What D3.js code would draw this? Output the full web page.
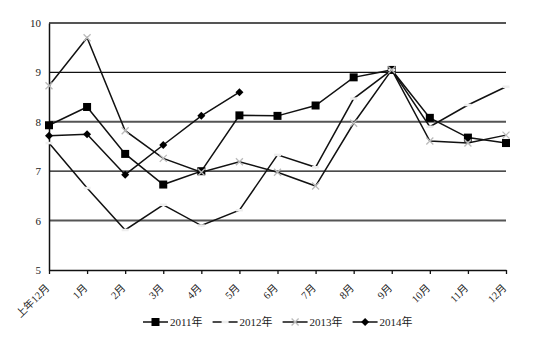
<!DOCTYPE html>
<html>
<head>
<meta charset="utf-8">
<script src="https://cdn.jsdelivr.net/npm/d3@7"></script>
<style>
  body { margin: 0; background: #fff; }
  text { font-family: "Liberation Serif", "Noto Sans CJK SC", serif; fill: #222; }
</style>
</head>
<body>
<div id="chart"></div>
<script>
// data
const categories = ["上年12月", "1月", "2月", "3月", "4月", "5月", "6月", "7月", "8月", "9月", "10月", "11月", "12月"];
const yTicks = [5, 6, 7, 8, 9, 10];
const seriesNames = ["2011年", "2012年", "2013年", "2014年"];
const values2011 = [7.93, 8.30, 7.35, 6.73, 7.00, 8.13, 8.12, 8.33, 8.90, 9.05, 8.08, 7.68, 7.57];
const values2012 = [7.57, 6.66, 5.81, 6.32, 5.90, 6.21, 7.33, 7.08, 8.47, 9.05, 7.90, 8.34, 8.71];
const values2013 = [8.73, 9.70, 7.82, 7.26, 6.98, 7.19, 6.98, 6.70, 7.97, 9.05, 7.61, 7.57, 7.73];
const values2014 = [7.72, 7.75, 6.93, 7.53, 8.12, 8.60];

const width = 533, height = 355;
const margin = {left: 49, right: 27, top: 23, bottom: 85};
const fontFamily = '"Liberation Serif", "Noto Sans CJK SC", serif';

const svg = d3.select("#chart").append("svg")
    .attr("width", width)
    .attr("height", height);

const x = d3.scalePoint()
    .domain(categories)
    .range([margin.left, width - margin.right])
    .padding(0);

const y = d3.scaleLinear()
    .domain([5, 10])
    .range([height - margin.bottom, margin.top]);

// gridlines
svg.append("g")
    .selectAll("line")
    .data(yTicks.filter(d => d > 5))
    .enter().append("line")
    .attr("x1", margin.left)
    .attr("x2", width - margin.right)
    .attr("y1", d => y(d))
    .attr("y2", d => y(d))
    .attr("stroke", d => (d % 2 === 0 ? "#555" : "#111"))
    .attr("stroke-width", d => (d % 2 === 0 ? 2 : 1.3));

// y axis
const yAxis = svg.append("g")
    .attr("transform", `translate(${margin.left},0)`)
    .call(d3.axisLeft(y).tickValues(yTicks).tickFormat(d3.format("d")).tickSize(0).tickPadding(8));
yAxis.attr("font-family", fontFamily);
yAxis.select(".domain").attr("stroke", "#111").attr("stroke-width", 1.5);
yAxis.selectAll("text").style("font-size", "11px");

// x axis
const xAxis = svg.append("g")
    .attr("transform", `translate(0,${y(5)})`)
    .call(d3.axisBottom(x).tickSize(4).tickSizeOuter(0));
xAxis.attr("font-family", fontFamily);
xAxis.select(".domain").attr("stroke", "#111").attr("stroke-width", 1.5);
xAxis.selectAll(".tick line").attr("stroke", "#111").attr("stroke-width", 1.3);
xAxis.selectAll("text")
    .style("font-size", "10.5px")
    .attr("text-anchor", "end")
    .attr("dy", "0.35em")
    .attr("transform", "translate(-2,16) rotate(-45)")
    .attr("x", 0)
    .attr("y", 0);

// series
const allSeries = [
    {name: seriesNames[0], values: values2011, marker: "square"},
    {name: seriesNames[1], values: values2012, marker: "dash"},
    {name: seriesNames[2], values: values2013, marker: "cross"},
    {name: seriesNames[3], values: values2014, marker: "diamond"}
];

const line = d3.line()
    .x((d, i) => x(categories[i]))
    .y(d => y(d));

function drawMarker(g, type) {
    if (type === "square") {
        g.append("rect").attr("x", -4).attr("y", -4).attr("width", 8).attr("height", 8).attr("fill", "#000");
    } else if (type === "diamond") {
        g.append("path").attr("d", "M0,-4L4,0L0,4L-4,0Z").attr("fill", "#000");
    } else if (type === "cross") {
        g.append("path").attr("d", "M-3.5,-3.5L3.5,3.5M-3.5,3.5L3.5,-3.5")
            .attr("stroke", "#bbb").attr("stroke-width", 1.3).attr("fill", "none");
    } else if (type === "dash") {
        g.append("line").attr("x1", -3.5).attr("x2", 3.5)
            .attr("stroke", "#eee").attr("stroke-width", 2.5);
    }
}

allSeries.forEach(s => {
    svg.append("path")
        .datum(s.values)
        .attr("fill", "none")
        .attr("stroke", "#111")
        .attr("stroke-width", 1.5)
        .attr("d", line);
    s.values.forEach((v, i) => {
        const g = svg.append("g").attr("transform", `translate(${x(categories[i])},${y(v)})`);
        drawMarker(g, s.marker);
    });
});

// legend
const legend = svg.append("g").attr("transform", "translate(143,322)");
let lx = 0;
allSeries.forEach(s => {
    const item = legend.append("g").attr("transform", `translate(${lx},0)`);
    item.append("line").attr("x1", 0).attr("x2", 25)
        .attr("stroke", "#111").attr("stroke-width", 1.5);
    const m = item.append("g").attr("transform", "translate(12.5,0)");
    drawMarker(m, s.marker);
    const t = item.append("text")
        .attr("x", 27)
        .attr("dy", "0.35em")
        .style("font-size", "11px")
        .text(s.name);
    lx += 27 + t.node().getComputedTextLength() + 10;
});
</script>
</body>
</html>
